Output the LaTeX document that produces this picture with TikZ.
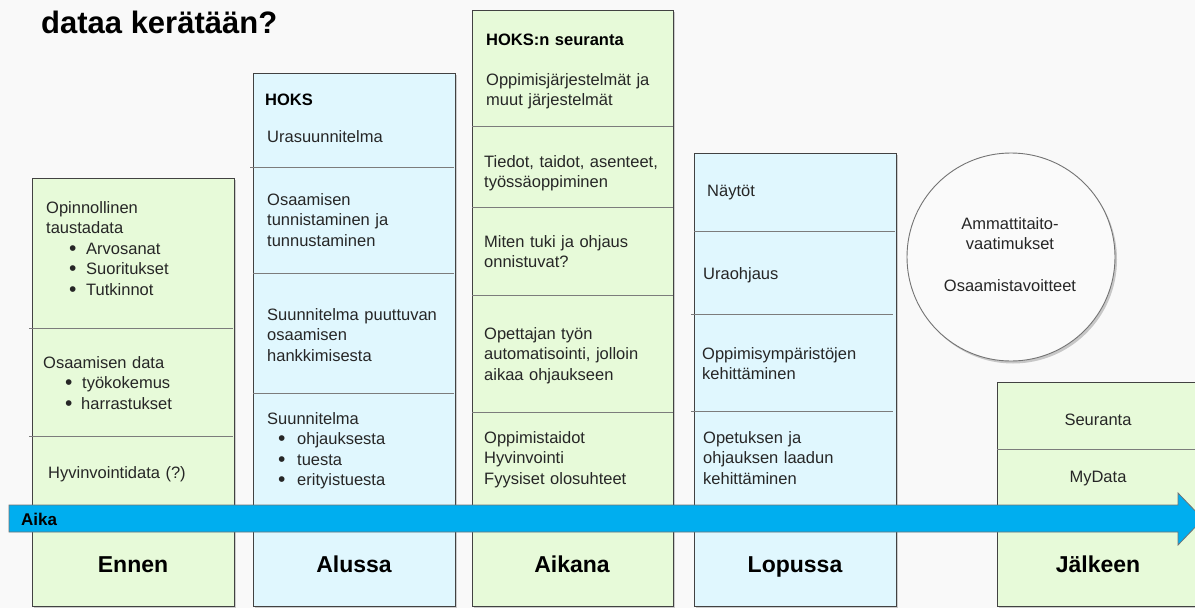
\documentclass[tikz,border=0pt]{standalone}
\usepackage{fontspec}
\setmainfont{Liberation Sans}
\usetikzlibrary{shadows}

\definecolor{pagebg}{HTML}{F9F9F9}
\definecolor{cellgreen}{HTML}{E7FAD9}
\definecolor{cellblue}{HTML}{E0F7FE}
\definecolor{timeblue}{HTML}{00AEEF}
\definecolor{frame}{HTML}{424242}
\definecolor{rule}{HTML}{7C7C7C}
\definecolor{discfill}{HTML}{FAFAFA}

% bullet item: indent, bullet box width, text
\newcommand{\listitem}[3]{\hspace*{#1}\makebox[#2][l]{\raisebox{-1.2pt}{\fontsize{21}{20}\selectfont\textbullet}}#3}

\begin{document}
\begin{tikzpicture}[x=1pt,y=-1pt,
  phase/.style={draw=frame, line width=0.9pt,
    drop shadow={shadow xshift=2pt, shadow yshift=-2pt, opacity=0.18, fill=black}},
  greenphase/.style={phase, fill=cellgreen},
  bluephase/.style={phase, fill=cellblue},
  divider/.style={draw=rule, line width=0.8pt},
  body/.style={inner sep=0pt, anchor=base west, align=left, text width=205pt,
    font=\fontsize{16.5}{20.5}\selectfont, text=black!85},
  heading/.style={body, font=\fontsize{16.5}{20.5}\selectfont\bfseries, text=black},
  centred/.style={inner sep=0pt, anchor=base, align=center, text width=200pt,
    font=\fontsize{16.5}{20.5}\selectfont, text=black!85},
  phasename/.style={inner sep=0pt, anchor=base, font=\fontsize{23}{28}\selectfont\bfseries},
]
\useasboundingbox (0,0) rectangle (1195,608);
\fill[pagebg] (0,0) rectangle (1195,608);

% title
\node[inner sep=0pt, anchor=base west, font=\fontsize{31}{36}\selectfont\bfseries]
  (title) at (41,33) {dataa kerätään?};

% ---- Ennen ----
\path[greenphase] (32,178) rectangle (234,606);
\draw[divider] (29,328) -- (233,328);
\draw[divider] (29,436) -- (233,436);
\node[body] (ennenA) at (46,213) {Opinnollinen\\taustadata\\
  \listitem{23pt}{17pt}{Arvosanat}\\
  \listitem{23pt}{17pt}{Suoritukset}\\
  \listitem{23pt}{17pt}{Tutkinnot}};
\node[body] (ennenB) at (43,368) {Osaamisen data\\
  \listitem{22pt}{17pt}{työkokemus}\\
  \listitem{22pt}{16pt}{harrastukset}};
\node[body] (ennenC) at (48,478) {Hyvinvointidata (?)};

% ---- Alussa ----
\path[bluephase] (253,73) rectangle (455,606);
\draw[divider] (250,167) -- (454,167);
\draw[divider] (253,273) -- (454,273);
\draw[divider] (253,393) -- (454,393);
\node[heading] (hoks) at (265,105) {HOKS};
\node[body] (alussaA) at (267,142) {Urasuunnitelma};
\node[body] (alussaB) at (267,205) {Osaamisen\\tunnistaminen ja\\tunnustaminen};
\node[body] (alussaC) at (267,320) {Suunnitelma puuttuvan\\osaamisen\\hankkimisesta};
\node[body] (alussaD) at (267,424) {Suunnitelma\\
  \listitem{11pt}{19pt}{ohjauksesta}\\
  \listitem{11pt}{19pt}{tuesta}\\
  \listitem{11pt}{19pt}{erityistuesta}};

% ---- Aikana ----
\path[greenphase] (472,10) rectangle (673,606);
\draw[divider] (472,126) -- (673,126);
\draw[divider] (472,207) -- (673,207);
\draw[divider] (472,295) -- (673,295);
\draw[divider] (472,412) -- (673,412);
\node[heading] (seuranta) at (486,45) {HOKS:n seuranta};
\node[body] (aikanaA) at (486,85) {Oppimisjärjestelmät ja\\muut järjestelmät};
\node[body] (aikanaB) at (484,167) {Tiedot, taidot, asenteet,\\työssäoppiminen};
\node[body] (aikanaC) at (484,247) {Miten tuki ja ohjaus\\onnistuvat?};
\node[body] (aikanaD) at (484,339) {Opettajan työn\\automatisointi, jolloin\\aikaa ohjaukseen};
\node[body] (aikanaE) at (484,443) {Oppimistaidot\\Hyvinvointi\\Fyysiset olosuhteet};

% ---- Lopussa ----
\path[bluephase] (694,153) rectangle (896,606);
\draw[divider] (694,231) -- (895,231);
\draw[divider] (691,314) -- (893,314);
\draw[divider] (691,411) -- (893,411);
\node[body] (lopussaA) at (707,196) {Näytöt};
\node[body] (lopussaB) at (703,279) {Uraohjaus};
\node[body] (lopussaC) at (702,359) {Oppimisympäristöjen\\kehittäminen};
\node[body] (lopussaD) at (703,443) {Opetuksen ja\\ohjauksen laadun\\kehittäminen};

% ---- Jälkeen ----
\path[greenphase] (997,382) rectangle (1199,606);
\draw[divider] (997,449) -- (1199,449);
\node[centred] (jalkeenA) at (1098,425) {Seuranta};
\node[centred] (jalkeenB) at (1098,482) {MyData};

% ---- goals disc ----
\node[circle, draw=black!55, line width=0.9pt, fill=discfill, minimum size=208pt, inner sep=0pt,
  drop shadow={shadow xshift=2pt, shadow yshift=-2.5pt, opacity=0.2, fill=black}]
  (goals) at (1011,257) {};
\node[centred] (goalsText) at (1010,229)
  {Ammattitaito-\\vaatimukset\\[21pt]Osaamistavoitteet};

% ---- time axis ----
\coordinate (axisStart) at (9,505);
\path[draw=black!55, line width=0.8pt, fill=timeblue]
  (axisStart) -- (1178,505) -- (1178,493) -- (1203,519) -- (1178,545)
  -- (1178,532) -- (9,532) -- cycle;
\node[inner sep=0pt, anchor=base west, font=\fontsize{17}{20}\selectfont\bfseries]
  (aika) at (21,525) {Aika};

% ---- phase names ----
\node[phasename] (ennen) at (133,572) {Ennen};
\node[phasename] (alussa) at (354,572) {Alussa};
\node[phasename] (aikana) at (572,572) {Aikana};
\node[phasename] (lopussa) at (795,572) {Lopussa};
\node[phasename] (jalkeen) at (1098,572) {Jälkeen};
\end{tikzpicture}
\end{document}
